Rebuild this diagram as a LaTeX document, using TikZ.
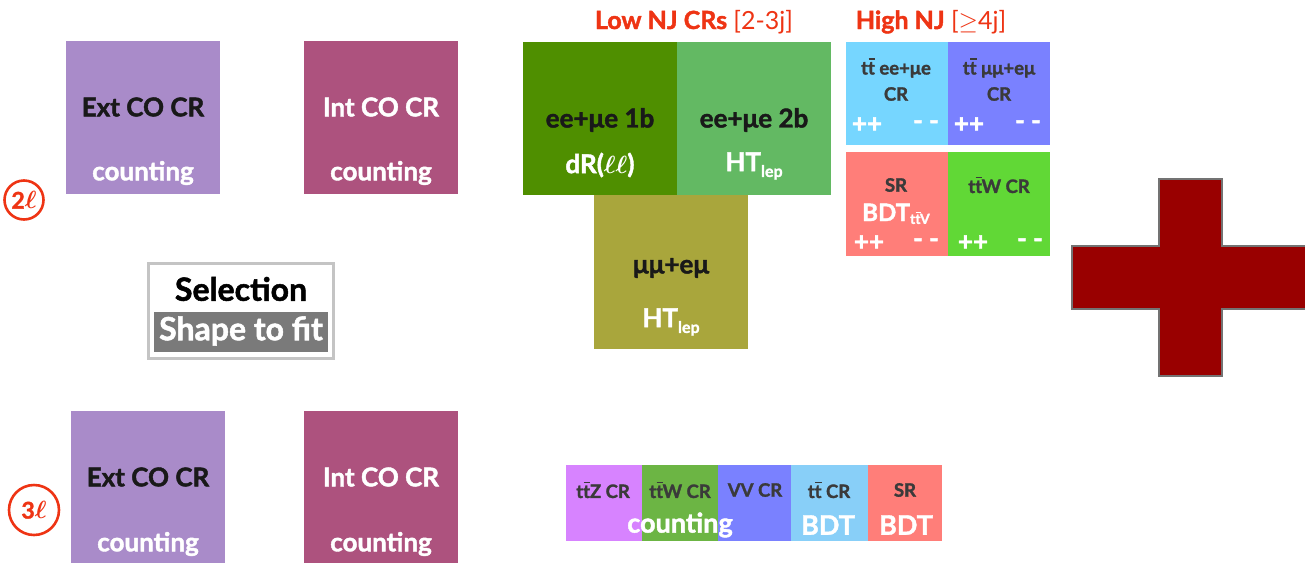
\documentclass[tikz,border=0pt]{standalone}
\usepackage{fontspec}
\setmainfont{Lato}[BoldFeatures={FakeBold=1.6}]
\usepackage{amsmath}
\usetikzlibrary{calc}
\definecolor{extc}{HTML}{A98BC9}
\definecolor{intc}{HTML}{AD527E}
\definecolor{redt}{HTML}{EE3414}
\definecolor{gdark}{HTML}{4F8F00}
\definecolor{glight}{HTML}{63B963}
\definecolor{olive}{HTML}{A9A63C}
\definecolor{cyanb}{HTML}{76D6FF}
\definecolor{blueb}{HTML}{7A81FF}
\definecolor{salmon}{HTML}{FF7E79}
\definecolor{lime}{HTML}{61D836}
\definecolor{purp}{HTML}{D783FF}
\definecolor{gmid}{HTML}{6CB544}
\definecolor{skyb}{HTML}{88CFF8}
\definecolor{crossred}{HTML}{990000}
\definecolor{darktxt}{HTML}{3A3A3A}
\definecolor{selgray}{HTML}{7A7A7A}
\definecolor{selframe}{HTML}{C4C4C4}
% t with a bar over it
\newcommand\tbar{\leavevmode\rlap{\kern0.03em\rule[0.80em]{0.36em}{0.07em}}t}
\newcommand\fs[1]{\fontsize{#1}{#1}\selectfont}
\newcommand\sub[1]{\raisebox{-0.22em}{\fs{16}#1}}
\newcommand\ellb{$\boldsymbol{\ell}$}
\begin{document}
\begin{tikzpicture}[x=1pt,y=-1pt,
  big/.style={font=\bfseries\fs{26}, text=black!90, inner sep=0pt},
  bigw/.style={font=\bfseries\fs{26}, text=white, inner sep=0pt},
  small/.style={font=\bfseries\fs{18.5}, text=darktxt, inner sep=0pt},
  sign/.style={font=\bfseries\fs{26}, text=white, inner sep=0pt},
  title/.style={text=redt, inner sep=0pt, font=\fs{25}},
  lepton/.style={circle, draw=redt, line width=2.6pt, text=redt, font=\bfseries\fs{23}, inner sep=0pt}
]
\useasboundingbox (0,0) rectangle (1305,563);

% ---------- two-lepton control regions ----------
\fill[extc] (66,41) rectangle (220,194);
\node[big] (ext2t) at (143,107) {Ext CO CR};
\node[bigw] (ext2c) at (143,173) {counting};

\fill[intc] (304,41) rectangle (458,194);
\node[big, text=white] (int2t) at (381,107) {Int CO CR};
\node[bigw] (int2c) at (381,173) {counting};

\node[lepton, minimum size=39pt] (l2) at (24,200) {2\ellb};

% ---------- selection legend ----------
\draw[selframe, line width=3pt] (148,263) rectangle (333,358);
\node[inner sep=0pt, font=\bfseries\fs{32}] (sel) at (241,289) {Selection};
\fill[selgray] (154,312) rectangle (328,352);
\node[inner sep=0pt, font=\bfseries\fs{32}, text=white] (shape) at (241,331) {Shape to fit};

% ---------- three-lepton control regions ----------
\fill[extc] (71,411) rectangle (225,563);
\node[big] (ext3t) at (148,477) {Ext CO CR};
\node[bigw] (ext3c) at (148,544) {counting};

\fill[intc] (304,411) rectangle (458,563);
\node[big, text=white] (int3t) at (381,477) {Int CO CR};
\node[bigw] (int3c) at (381,544) {counting};

\node[lepton, minimum size=50pt] (l3) at (34,510) {3\ellb};

% ---------- low jet multiplicity ----------
\node[title, anchor=base] (lowt) at (694,29) {\textbf{Low NJ CRs} [2-3j]};
\fill[gdark] (523,42) rectangle (677,195);
\fill[glight] (677,42) rectangle (831,195);
\fill[olive] (594,195) rectangle (748,349);
\node[big] (ee1b) at (600,120) {ee+μe 1b};
\node[bigw] (drll) at (600,165) {dR(\ellb\ellb)};
\node[big] (ee2b) at (754,120) {ee+μe 2b};
\node[bigw] (ht2b) at (754,166) {HT\sub{lep}};
\node[big] (mm) at (671,268) {μμ+eμ};
\node[bigw] (htmm) at (671,322) {HT\sub{lep}};

% ---------- high jet multiplicity ----------
\node[title, anchor=base] (hight) at (931,29) {\textbf{High NJ} [$\geq$4j]};
\fill[cyanb] (846,42) rectangle (948,145);
\fill[blueb] (948,42) rectangle (1050,145);
\node[small] (tee) at (896,68) {t\tbar\ ee+μe};
\node[small] (teecr) at (896,94) {CR};
\node[small] (tmm) at (999,68) {t\tbar\ μμ+eμ};
\node[small] (tmmcr) at (999,94) {CR};
\node[sign] at (867,125) {++};
\node[sign] at (926,125) {- -};
\node[sign] at (969,125) {++};
\node[sign] at (1028,125) {- -};

\fill[salmon] (846,152) rectangle (948,256);
\fill[lime] (948,152) rectangle (1050,256);
\node[small] (sr) at (896,185) {SR};
\node[bigw, font=\bfseries\fs{24}, anchor=base] (bdtv) at (896,221) {BDT\raisebox{-0.12em}{\fs{14}t\tbar V}};
\node[small] (ttw) at (999,185) {t\tbar W CR};
\node[sign] at (869,243) {++};
\node[sign] at (926,243) {- -};
\node[sign] at (973,243) {++};
\node[sign] at (1030,243) {- -};

% ---------- three-lepton regions strip ----------
\fill[purp] (566,465) rectangle (642,541);
\fill[gmid] (642,465) rectangle (718,541);
\fill[blueb] (718,465) rectangle (791,541);
\fill[skyb] (791,465) rectangle (868,541);
\fill[salmon] (868,465) rectangle (942,541);
\node[small] (ttz) at (603,490) {t\tbar Z CR};
\node[small] (ttw3) at (680,490) {t\tbar W CR};
\node[small] (vv) at (755,490) {VV CR};
\node[small] (tt3) at (829,490) {t\tbar\ CR};
\node[small] (sr3) at (905,490) {SR};
\node[bigw, font=\bfseries\fs{27}] (cnt3) at (680,525) {counting};
\node[bigw, font=\bfseries\fs{27}] (bdt1) at (828,525) {BDT};
\node[bigw, font=\bfseries\fs{27}] (bdt2) at (906,525) {BDT};

% ---------- plus sign ----------
\draw[fill=crossred, draw=black!55, line width=1.2pt]
  (1159,179) -- (1222,179) -- (1222,246) -- (1306,246) -- (1306,309)
  -- (1222,309) -- (1222,376) -- (1159,376) -- (1159,309) -- (1072,309)
  -- (1072,246) -- (1159,246) -- cycle;
\end{tikzpicture}
\end{document}
